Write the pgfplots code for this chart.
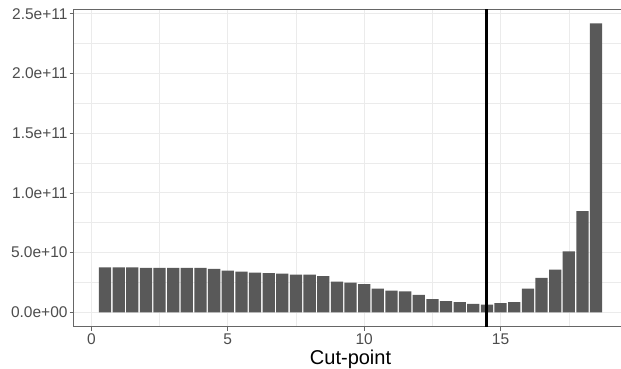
\documentclass[border=0pt]{standalone}
\usepackage{pgfplots}
\pgfplotsset{compat=1.18}
\usepackage{fontspec}
\setmainfont{Liberation Sans}
\definecolor{barfill}{HTML}{595959}
\definecolor{gridc}{HTML}{EBEBEB}
\definecolor{borderc}{HTML}{333333}
\definecolor{tickc}{HTML}{4D4D4D}
\begin{document}
\begin{tikzpicture}
\useasboundingbox (-73.7pt,-41.3pt) rectangle (547.3pt,326.7pt);
\begin{axis}[
  at={(0,0)}, anchor=south west,
  scale only axis, width=553.7pt, height=317.7pt,
  xmin=-0.6475, xmax=19.6475, ymin=-1.21e10, ymax=2.541e11,
  xtick={0,5,10,15}, xticklabels={0,5,10,15},
  minor xtick={2.5,7.5,12.5,17.5},
  ytick={0,5e10,1e11,1.5e11,2e11,2.5e11},
  yticklabels={0.0e+00,5.0e+10,1.0e+11,1.5e+11,2.0e+11,2.5e+11},
  minor ytick={2.5e10,7.5e10,1.25e11,1.75e11,2.25e11},
  scaled y ticks=false,
  grid=both,
  major grid style={gridc, line width=1pt},
  minor grid style={gridc, line width=0.6pt},
  axis line style={borderc!75, line width=0.8pt},
  tick align=outside, major tick length=4pt, minor tick length=0pt,
  tick pos=left,
  tick style={borderc!75, line width=0.8pt},
  ticklabel style={font=\fontsize{15.5}{15.5}\selectfont, text=tickc},
  yticklabel style={inner sep=0pt, xshift=-2pt},
  xticklabel style={inner sep=0pt, yshift=-3pt},
  xlabel={Cut-point},
  xlabel style={font=\fontsize{20}{20}\selectfont, at={(axis description cs:0.5,0)}, anchor=base, yshift=-37.3pt},
]
\addplot[ybar, bar width=0.45, fill=barfill, draw=none] coordinates {
(0.5,3.77e10) (1.0,3.77e10) (1.5,3.77e10) (2.0,3.71e10) (2.5,3.71e10)
(3.0,3.71e10) (3.5,3.71e10) (4.0,3.71e10) (4.5,3.63e10) (5.0,3.49e10)
(5.5,3.41e10) (6.0,3.32e10) (6.5,3.28e10) (7.0,3.24e10) (7.5,3.16e10)
(8.0,3.16e10) (8.5,3.02e10) (9.0,2.57e10) (9.5,2.49e10) (10.0,2.35e10)
(10.5,1.99e10) (11.0,1.82e10) (11.5,1.74e10) (12.0,1.46e10) (12.5,1.10e10)
(13.0,0.93e10) (13.5,0.84e10) (14.0,0.71e10) (14.5,0.63e10) (15.0,0.76e10)
(15.5,0.84e10) (16.0,1.99e10) (16.5,2.88e10) (17.0,3.57e10) (17.5,5.10e10)
(18.0,8.47e10) (18.5,2.42e11)
};
\addplot[black, line width=3pt] coordinates {(14.5,-1.21e10) (14.5,2.541e11)};
\end{axis}
\end{tikzpicture}
\end{document}
